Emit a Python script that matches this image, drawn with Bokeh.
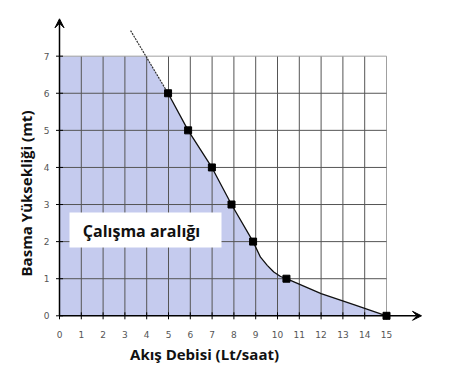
import math
from bokeh.plotting import figure
from bokeh.models import Range1d, Arrow, VeeHead
from bokeh.core.properties import value
from bokeh.embed import file_html
from bokeh.resources import INLINE

# ---- data ----
x_ticks = list(range(0, 16))
y_ticks = list(range(0, 8))
marker_q = [4.98, 5.90, 6.99, 7.89, 8.88, 10.41, 15.0]
marker_h = [6, 5, 4, 3, 2, 1, 0]
curve_q = [4.98, 5.90, 6.99, 7.89, 8.88, 9.22, 9.53, 9.83, 10.14, 10.41, 12.0, 13.5, 15.0]
curve_h = [6, 5, 4, 3, 2, 1.58, 1.36, 1.18, 1.06, 1.0, 0.6, 0.3, 0]
dot_q = [3.26, 4.98]
dot_h = [7.69, 6]
x_max = 15
y_max = 7
x_title = "Akış Debisi  (Lt/saat)"
y_title = "Basma Yüksekliği (mt)"
region_label = "Çalışma aralığı"

W, H = 439, 365
sx, sy = 21.8, 37.09
OX, OY = 59.0, 315.3      # origin position in the picture
x0 = -OX / sx
y_top = OY / sy

def px(v):
    return (v - OX) / sx

def py(v):
    return (OY - v) / sy

p = figure(width=W, height=H, output_backend="svg", toolbar_location=None,
           x_axis_type=None, y_axis_type=None,
           x_range=Range1d(x0, x0 + W / sx), y_range=Range1d(y_top - H / sy, y_top),
           min_border=0, outline_line_color=None)
p.xgrid.visible = False
p.ygrid.visible = False

# fill region
fill_q = [0, 0, 3.97] + curve_q
fill_h = [0, y_max, y_max] + curve_h
p.patch(fill_q, fill_h, fill_color="#c5cbee", line_color=None)

# grid
gx = [v for v in x_ticks if v > 0]
gy = [v for v in y_ticks if v > 0]
p.segment(x0=gx, y0=[0] * len(gx), x1=gx, y1=[y_max] * len(gx),
          line_color=["#a0a0a0" if v == x_max else "#555555" for v in gx], line_width=1)
p.segment(x0=[0] * len(gy), y0=gy, x1=[x_max] * len(gy), y1=gy,
          line_color=["#a0a0a0" if v == y_max else "#555555" for v in gy], line_width=1)

# curve
p.line(dot_q, dot_h, line_color="#333333", line_width=1.2, line_dash="2 1")
p.line(curve_q, curve_h, line_color="#111111", line_width=1.3)

# axes with arrows
p.add_layout(Arrow(x_start=0, y_start=0, x_end=0, y_end=py(18.3),
                   line_color="black", line_width=1.5,
                   end=VeeHead(size=9, fill_color="black", line_color="black")))
p.add_layout(Arrow(x_start=0, y_start=0, x_end=px(421), y_end=0,
                   line_color="black", line_width=1.5,
                   end=VeeHead(size=9, fill_color="black", line_color="black")))
p.scatter(x_ticks, [0] * len(x_ticks), marker="dash", angle=math.pi / 2, size=7,
          line_color="black", line_width=1)
p.scatter([0] * len(y_ticks), y_ticks, marker="dash", size=7, line_color="black", line_width=1)

# markers
p.scatter(marker_q, marker_h, marker="square", size=7, fill_color="black", line_color="black")

# tick labels
p.text(x=x_ticks, y=[0] * len(x_ticks), text=[str(v) for v in x_ticks], y_offset=19,
       text_align="center", text_baseline="middle", text_font=value("DejaVu Sans"),
       text_font_size="9px", text_color="#555555")
p.text(x=[0] * len(y_ticks), y=y_ticks, text=[str(v) for v in y_ticks], x_offset=-10,
       text_align="right", text_baseline="middle", text_font=value("DejaVu Sans"),
       text_font_size="9px", text_color="#555555")

# axis titles
p.text(x=[px(206)], y=[py(353)], text=[x_title],
       text_align="center", text_baseline="middle", text_font=value("Open Sans"),
       text_font_size="15px", text_font_style="bold", text_color="#111111")
p.text(x=[px(25)], y=[py(193)], text=[y_title], angle=math.pi / 2,
       text_align="center", text_baseline="middle", text_font=value("Open Sans"),
       text_font_size="15px", text_font_style="bold", text_color="#111111")

# label box
p.quad(left=[px(69)], right=[px(221)], top=[py(212)], bottom=[py(247)],
       fill_color="white", line_color=None)
p.text(x=[px(141)], y=[py(230)], text=[region_label],
       text_align="center", text_baseline="middle", text_font=value("Open Sans"),
       text_font_size="16px", text_font_style="bold", text_color="#111111")

open("out.html", "w").write(file_html(p, INLINE))
